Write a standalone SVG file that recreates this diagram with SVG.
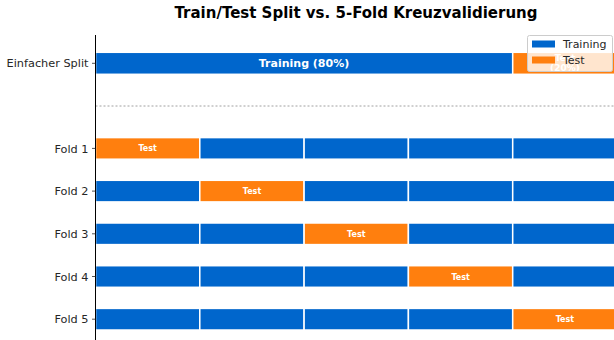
<svg xmlns="http://www.w3.org/2000/svg" width="614" height="340" viewBox="0 0 614 340">
  <style>
    .title { font-family: "DejaVu Sans", sans-serif; font-weight: bold; font-size: 15px; fill: #000; }
    .ylab { font-family: "DejaVu Sans", sans-serif; font-size: 11.3px; fill: #262626; text-anchor: end; }
    .train { fill: #0066CC; stroke: #ffffff; stroke-width: 1.5; }
    .test { fill: #FF7F0E; stroke: #ffffff; stroke-width: 1.5; }
    .barlbl { font-family: "DejaVu Sans", sans-serif; font-weight: bold; fill: #ffffff; text-anchor: middle; }
    .tick { stroke: #262626; stroke-width: 0.8; }
    .leg { font-family: "DejaVu Sans", sans-serif; font-size: 11px; fill: #262626; }
  </style>
  <rect width="614" height="340" fill="#ffffff"/>

  <text class="title" x="356" y="18" text-anchor="middle">Train/Test Split vs. 5-Fold Kreuzvalidierung</text>

  <!-- simple 80/20 split -->
  <g id="simple-split">
    <rect class="train" x="95.5" y="52.3" width="417.2" height="22"/>
    <rect class="test" x="512.7" y="52.3" width="104.3" height="22"/>
    <text class="barlbl" x="304" y="67" font-size="11">Training (80%)</text>
    <text class="barlbl" x="565" y="61" font-size="9">Test</text>
    <text class="barlbl" x="565" y="71" font-size="9">(20%)</text>
  </g>

  <!-- separator between simple split and folds -->
  <line x1="95.5" y1="106" x2="614" y2="106" stroke="#a0a0a0" stroke-width="1" stroke-dasharray="2,2"/>

  <g id="fold1">
    <rect class="test" x="95.5" y="137.6" width="104.3" height="21.6"/>
    <rect class="train" x="199.8" y="137.6" width="104.3" height="21.6"/>
    <rect class="train" x="304.1" y="137.6" width="104.3" height="21.6"/>
    <rect class="train" x="408.4" y="137.6" width="104.3" height="21.6"/>
    <rect class="train" x="512.7" y="137.6" width="104.3" height="21.6"/>
    <text class="barlbl" x="147.6" y="151.4" font-size="8">Test</text>
  </g>
  <g id="fold2">
    <rect class="train" x="95.5" y="180.3" width="104.3" height="21.6"/>
    <rect class="test" x="199.8" y="180.3" width="104.3" height="21.6"/>
    <rect class="train" x="304.1" y="180.3" width="104.3" height="21.6"/>
    <rect class="train" x="408.4" y="180.3" width="104.3" height="21.6"/>
    <rect class="train" x="512.7" y="180.3" width="104.3" height="21.6"/>
    <text class="barlbl" x="252" y="194.1" font-size="8">Test</text>
  </g>
  <g id="fold3">
    <rect class="train" x="95.5" y="223" width="104.3" height="21.6"/>
    <rect class="train" x="199.8" y="223" width="104.3" height="21.6"/>
    <rect class="test" x="304.1" y="223" width="104.3" height="21.6"/>
    <rect class="train" x="408.4" y="223" width="104.3" height="21.6"/>
    <rect class="train" x="512.7" y="223" width="104.3" height="21.6"/>
    <text class="barlbl" x="356.3" y="236.8" font-size="8">Test</text>
  </g>
  <g id="fold4">
    <rect class="train" x="95.5" y="265.7" width="104.3" height="21.6"/>
    <rect class="train" x="199.8" y="265.7" width="104.3" height="21.6"/>
    <rect class="train" x="304.1" y="265.7" width="104.3" height="21.6"/>
    <rect class="test" x="408.4" y="265.7" width="104.3" height="21.6"/>
    <rect class="train" x="512.7" y="265.7" width="104.3" height="21.6"/>
    <text class="barlbl" x="460.6" y="279.5" font-size="8">Test</text>
  </g>
  <g id="fold5">
    <rect class="train" x="95.5" y="308.4" width="104.3" height="21.6"/>
    <rect class="train" x="199.8" y="308.4" width="104.3" height="21.6"/>
    <rect class="train" x="304.1" y="308.4" width="104.3" height="21.6"/>
    <rect class="train" x="408.4" y="308.4" width="104.3" height="21.6"/>
    <rect class="test" x="512.7" y="308.4" width="104.3" height="21.6"/>
    <text class="barlbl" x="564.9" y="322.2" font-size="8">Test</text>
  </g>

  <!-- y axis: spine, ticks, labels -->
  <g id="y-axis">
    <line x1="95.5" y1="35" x2="95.5" y2="340" stroke="#000" stroke-width="1"/>
    <line class="tick" x1="92" y1="63.3" x2="95.5" y2="63.3"/>
    <line class="tick" x1="92" y1="148.4" x2="95.5" y2="148.4"/>
    <line class="tick" x1="92" y1="191.1" x2="95.5" y2="191.1"/>
    <line class="tick" x1="92" y1="233.8" x2="95.5" y2="233.8"/>
    <line class="tick" x1="92" y1="276.5" x2="95.5" y2="276.5"/>
    <line class="tick" x1="92" y1="319.2" x2="95.5" y2="319.2"/>
    <text class="ylab" x="88.5" y="67.4">Einfacher Split</text>
    <text class="ylab" x="88.5" y="152.5">Fold 1</text>
    <text class="ylab" x="88.5" y="195.2">Fold 2</text>
    <text class="ylab" x="88.5" y="237.9">Fold 3</text>
    <text class="ylab" x="88.5" y="280.6">Fold 4</text>
    <text class="ylab" x="88.5" y="323.3">Fold 5</text>
  </g>

  <!-- legend, semi-opaque over the test segment -->
  <g id="legend">
    <rect x="527.5" y="35.5" width="85" height="36" rx="2" fill="#ffffff" fill-opacity="0.8" stroke="#cccccc" stroke-width="1"/>
    <rect x="532" y="40.5" width="23" height="7" fill="#0066CC"/>
    <text class="leg" x="563" y="48">Training</text>
    <rect x="532" y="56.5" width="23" height="7" fill="#FF7F0E"/>
    <text class="leg" x="563" y="64">Test</text>
  </g>
</svg>
